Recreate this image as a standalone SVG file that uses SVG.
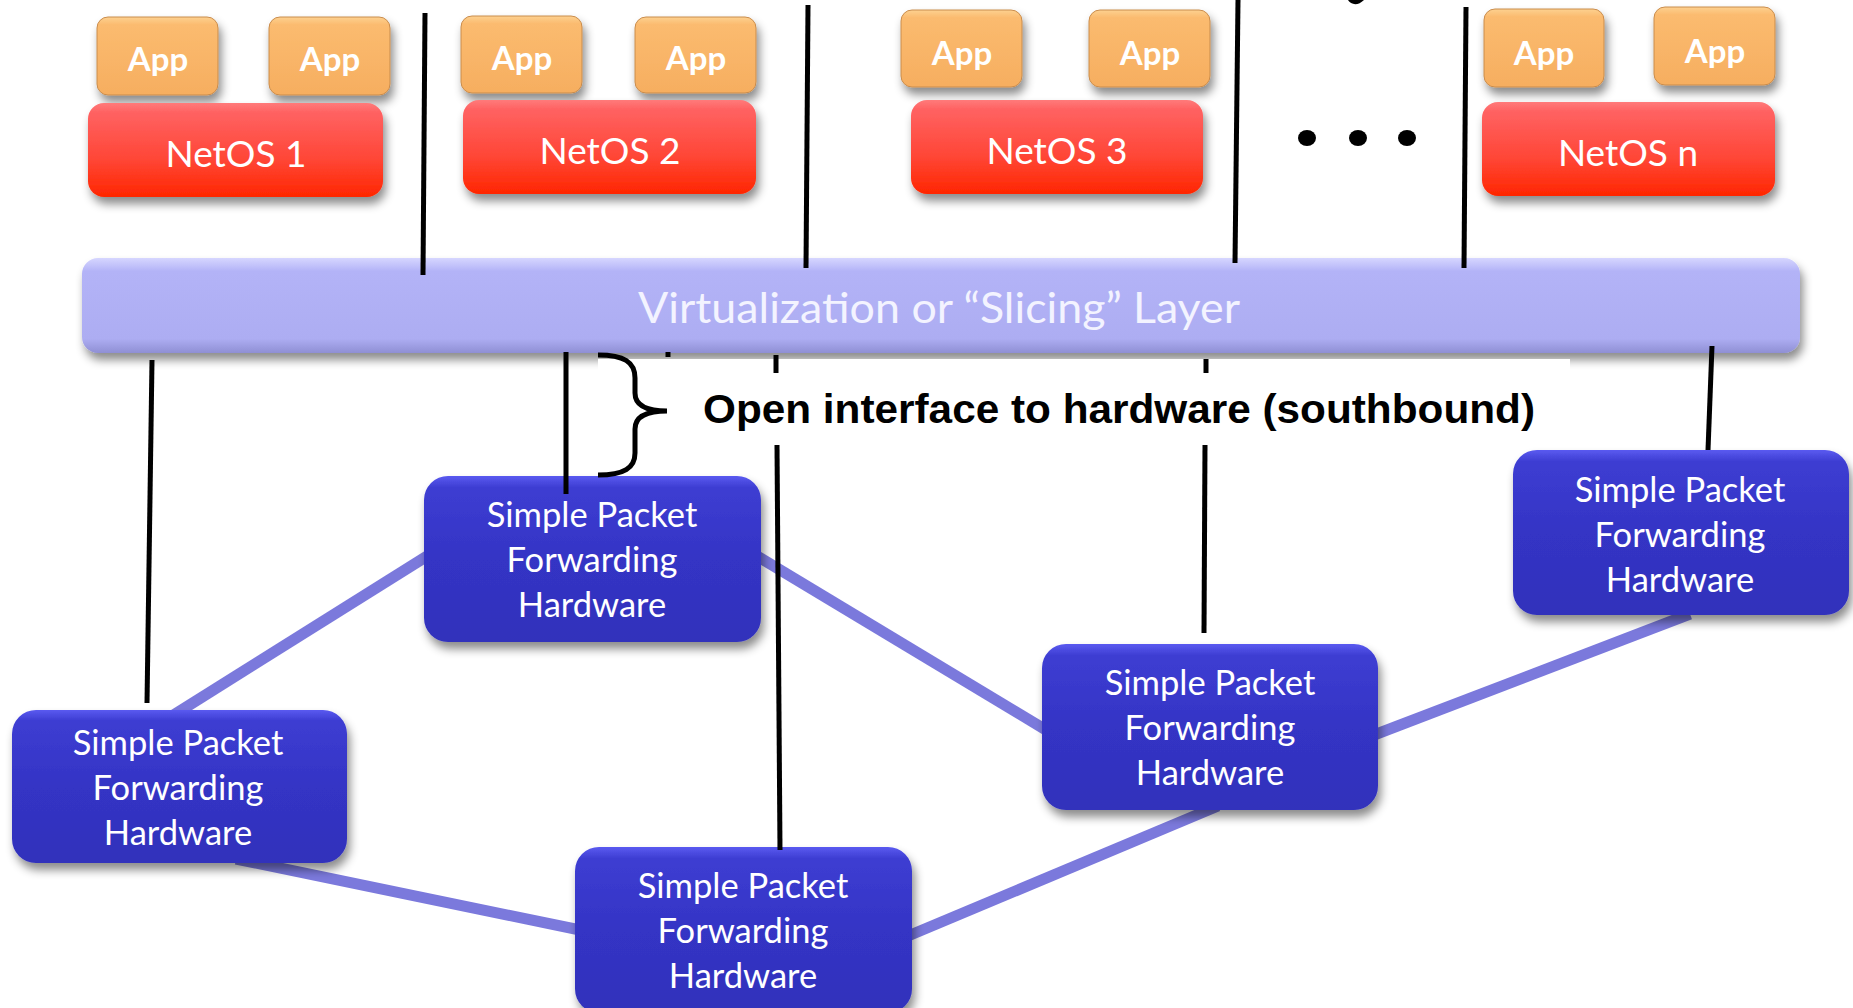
<svg xmlns="http://www.w3.org/2000/svg" width="1853" height="1008" viewBox="0 0 1853 1008">
<defs>
<style>
.app{fill:url(#gApp);stroke:#c98c4c;stroke-width:1;filter:url(#sh)}
.appt{font-family:Lato,"Open Sans",sans-serif;font-weight:bold;font-size:33px;fill:#fff;text-anchor:middle}
.os{fill:url(#gOs);filter:url(#sh)}
.ost{font-family:Lato,"Open Sans",sans-serif;font-size:37px;fill:#fff;text-anchor:middle}
.hw{fill:url(#gHw);filter:url(#sh)}
.hwt{font-family:Lato,"Open Sans",sans-serif;font-size:34.5px;fill:#fff;text-anchor:middle}
.blk{stroke:#000;stroke-width:5;fill:none}
.lnk{stroke:#7b79dc;stroke-width:11;fill:none}
</style>
<filter id="sh" x="-15%" y="-20%" width="135%" height="170%">
<feDropShadow dx="3" dy="7" stdDeviation="5" flood-color="#000" flood-opacity="0.45"/>
</filter>
<linearGradient id="gApp" x1="0" y1="0" x2="0" y2="1">
<stop offset="0" stop-color="#fdd190"/><stop offset="0.1" stop-color="#fbbb6f"/><stop offset="1" stop-color="#f6ae60"/>
</linearGradient>
<linearGradient id="gOs" x1="0" y1="0" x2="0" y2="1">
<stop offset="0" stop-color="#ff7a7a"/><stop offset="0.1" stop-color="#ff6262"/><stop offset="0.6" stop-color="#ff4636"/><stop offset="1" stop-color="#ff2600"/>
</linearGradient>
<linearGradient id="gHw" x1="0" y1="0" x2="0" y2="1">
<stop offset="0" stop-color="#5a5af0"/><stop offset="0.07" stop-color="#3d3dd2"/><stop offset="0.5" stop-color="#3434c5"/><stop offset="1" stop-color="#3131bb"/>
</linearGradient>
<linearGradient id="gBar" x1="0" y1="0" x2="0" y2="1">
<stop offset="0" stop-color="#d6d6ff"/><stop offset="0.14" stop-color="#b3b3f7"/><stop offset="0.85" stop-color="#adadf2"/><stop offset="1" stop-color="#8f8fd4"/>
</linearGradient>
</defs>
<rect width="1853" height="1008" fill="#fff"/>

<g id="links">
<line class="lnk" x1="432" y1="553" x2="172" y2="716"/>
<line class="lnk" x1="236" y1="859" x2="580" y2="930"/>
<line class="lnk" x1="752" y1="553" x2="1046" y2="730"/>
<line class="lnk" x1="908" y1="936" x2="1218" y2="806"/>
<line class="lnk" x1="1374" y1="735" x2="1690" y2="614"/>
</g>

<g id="hw1"><rect class="hw" x="424" y="476" width="337" height="166" rx="24"/>
<text class="hwt" x="592" y="527">Simple Packet</text><text class="hwt" x="592" y="572">Forwarding</text><text class="hwt" x="592" y="617">Hardware</text></g>
<g id="hw2"><rect class="hw" x="12" y="710" width="335" height="153" rx="24"/>
<text class="hwt" x="178" y="755">Simple Packet</text><text class="hwt" x="178" y="800">Forwarding</text><text class="hwt" x="178" y="845">Hardware</text></g>
<g id="hw3"><rect class="hw" x="575" y="847" width="337" height="166" rx="24"/>
<text class="hwt" x="743" y="898">Simple Packet</text><text class="hwt" x="743" y="943">Forwarding</text><text class="hwt" x="743" y="988">Hardware</text></g>
<g id="hw4"><rect class="hw" x="1042" y="644" width="336" height="166" rx="24"/>
<text class="hwt" x="1210" y="695">Simple Packet</text><text class="hwt" x="1210" y="740">Forwarding</text><text class="hwt" x="1210" y="785">Hardware</text></g>
<g id="hw5"><rect class="hw" x="1513" y="450" width="336" height="165" rx="24"/>
<text class="hwt" x="1680" y="502">Simple Packet</text><text class="hwt" x="1680" y="547">Forwarding</text><text class="hwt" x="1680" y="592">Hardware</text></g>

<g id="slicing-layer">
<rect x="82" y="258" width="1718" height="95" rx="16" fill="url(#gBar)" filter="url(#sh)"/>
<text x="939" y="323" font-family="Lato,'Open Sans',sans-serif" font-size="42" fill="#f3f3ff" text-anchor="middle" textLength="602" lengthAdjust="spacingAndGlyphs">Virtualization or “Slicing” Layer</text>
</g>

<g id="app1"><rect class="app" x="97" y="17" width="121" height="78" rx="11"/><text class="appt" x="158" y="71">App</text></g>
<g id="app2"><rect class="app" x="269" y="17" width="121" height="78" rx="11"/><text class="appt" x="330" y="71">App</text></g>
<g id="app3"><rect class="app" x="461" y="16" width="121" height="77" rx="11"/><text class="appt" x="522" y="70">App</text></g>
<g id="app4"><rect class="app" x="635" y="17" width="121" height="76" rx="11"/><text class="appt" x="696" y="70">App</text></g>
<g id="app5"><rect class="app" x="901" y="10" width="121" height="77" rx="11"/><text class="appt" x="962" y="65">App</text></g>
<g id="app6"><rect class="app" x="1089" y="10" width="121" height="77" rx="11"/><text class="appt" x="1150" y="65">App</text></g>
<g id="app7"><rect class="app" x="1484" y="9" width="120" height="78" rx="11"/><text class="appt" x="1544" y="65">App</text></g>
<g id="app8"><rect class="app" x="1654" y="7" width="121" height="78" rx="11"/><text class="appt" x="1715" y="63">App</text></g>

<g id="netos1"><rect class="os" x="88" y="103" width="295" height="94" rx="16"/><text class="ost" x="236" y="167">NetOS 1</text></g>
<g id="netos2"><rect class="os" x="463" y="100" width="293" height="94" rx="16"/><text class="ost" x="610" y="164">NetOS 2</text></g>
<g id="netos3"><rect class="os" x="911" y="100" width="292" height="94" rx="16"/><text class="ost" x="1057" y="164">NetOS 3</text></g>
<g id="netosn"><rect class="os" x="1482" y="102" width="293" height="94" rx="16"/><text class="ost" x="1628" y="166">NetOS n</text></g>

<g id="dots" fill="#000">
<ellipse cx="1307" cy="138" rx="9" ry="8"/><ellipse cx="1358" cy="138" rx="9" ry="8"/><ellipse cx="1407" cy="138" rx="9" ry="8"/>
<path d="M1348,0 C1351,5 1358,6 1364,0 Z"/>
</g>

<g id="label">
<rect x="598" y="359" width="972" height="87" fill="#fff"/>
<text x="703" y="423" font-family="'Liberation Sans',Arial,sans-serif" font-weight="bold" font-size="40" fill="#000" textLength="832" lengthAdjust="spacingAndGlyphs">Open interface to hardware (southbound)</text>
<path d="M598,355 C624,355 635,362 635,378 L635,393 C635,405 646,411 667,411 C646,411 635,417 635,429 L635,453 C635,468 624,475 598,475" fill="none" stroke="#000" stroke-width="5"/>
</g>

<g id="connectors">
<line class="blk" x1="425" y1="13" x2="423" y2="275"/>
<line class="blk" x1="808" y1="5" x2="806" y2="268"/>
<line class="blk" x1="1238" y1="0" x2="1235" y2="263"/>
<line class="blk" x1="1466" y1="7" x2="1464" y2="268"/>
<line class="blk" x1="152" y1="360" x2="147" y2="703"/>
<line class="blk" x1="566" y1="352" x2="566" y2="494"/>
<line class="blk" x1="668" y1="352" x2="668" y2="357"/>
<line class="blk" x1="776" y1="355" x2="776" y2="373"/>
<line class="blk" x1="777" y1="445" x2="780" y2="850"/>
<line class="blk" x1="1206" y1="359" x2="1206" y2="373"/>
<line class="blk" x1="1205" y1="445" x2="1204" y2="633"/>
<line class="blk" x1="1712" y1="346" x2="1708" y2="450"/>
</g>
</svg>
